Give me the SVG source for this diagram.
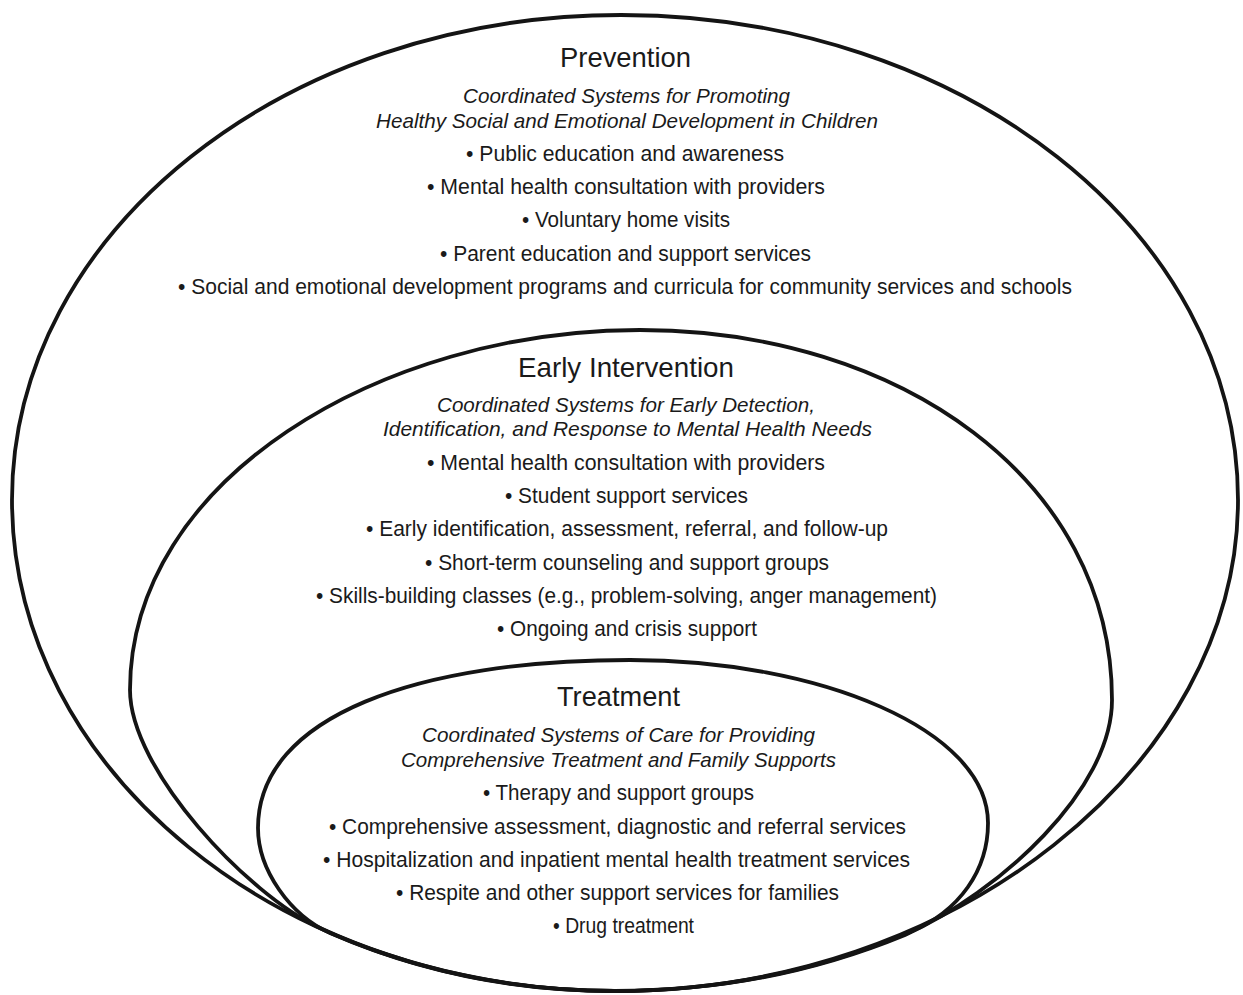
<svg xmlns="http://www.w3.org/2000/svg" width="1243" height="995" viewBox="0 0 1243 995">
<style>
.ring{fill:none;stroke:#141414;stroke-width:3.8;stroke-linejoin:round}
text{font-family:"Liberation Sans Narrow","Liberation Sans",Arial,sans-serif;fill:#1a1a1a;text-anchor:middle}
.t{font-size:28px}
.s{font-size:21px;font-style:italic}
.b{font-size:21.5px}
</style>
<rect width="1243" height="995" fill="#ffffff"/>
<g id="connectors"></g>
<g id="prevention">
<path class="ring" d="M615 991 C282 991 12 771 12 500 C12 232 285 15 621 15 C962 15 1238 232 1238 500 C1238 765 955 991 615 991 Z"/>
<text class="t" x="625.5" y="67" textLength="131" lengthAdjust="spacingAndGlyphs">Prevention</text>
<text class="s" x="626.5" y="103" textLength="327" lengthAdjust="spacingAndGlyphs">Coordinated Systems for Promoting</text>
<text class="s" x="627" y="128" textLength="502" lengthAdjust="spacingAndGlyphs">Healthy Social and Emotional Development in Children</text>
<text class="b" x="625" y="161" textLength="318" lengthAdjust="spacingAndGlyphs">• Public education and awareness</text>
<text class="b" x="626" y="194" textLength="398" lengthAdjust="spacingAndGlyphs">• Mental health consultation with providers</text>
<text class="b" x="626" y="227" textLength="208" lengthAdjust="spacingAndGlyphs">• Voluntary home visits</text>
<text class="b" x="625.5" y="261" textLength="371" lengthAdjust="spacingAndGlyphs">• Parent education and support services</text>
<text class="b" x="625" y="294" textLength="894" lengthAdjust="spacingAndGlyphs">• Social and emotional development programs and curricula for community services and schools</text>
</g>
<g id="early-intervention">
<path class="ring" d="M320 928 C248 895 130 770 130 690 C130 480 380 330 640 330 C900 330 1112 480 1112 700 C1112 790 1000 892 905 935 A623 491 0 0 1 615 991 A603 491 0 0 1 320 928 Z"/>
<text class="t" x="626" y="377" textLength="216" lengthAdjust="spacingAndGlyphs">Early Intervention</text>
<text class="s" x="626" y="412" textLength="378" lengthAdjust="spacingAndGlyphs">Coordinated Systems for Early Detection,</text>
<text class="s" x="627.5" y="436" textLength="489" lengthAdjust="spacingAndGlyphs">Identification, and Response to Mental Health Needs</text>
<text class="b" x="626" y="470" textLength="398" lengthAdjust="spacingAndGlyphs">• Mental health consultation with providers</text>
<text class="b" x="626.5" y="503" textLength="243" lengthAdjust="spacingAndGlyphs">• Student support services</text>
<text class="b" x="627" y="536" textLength="522" lengthAdjust="spacingAndGlyphs">• Early identification, assessment, referral, and follow-up</text>
<text class="b" x="627" y="570" textLength="404" lengthAdjust="spacingAndGlyphs">• Short-term counseling and support groups</text>
<text class="b" x="626.5" y="603" textLength="621" lengthAdjust="spacingAndGlyphs">• Skills-building classes (e.g., problem-solving, anger management)</text>
<text class="b" x="627" y="636" textLength="260" lengthAdjust="spacingAndGlyphs">• Ongoing and crisis support</text>
</g>
<g id="treatment">
<path class="ring" d="M330 933 C290 915 258 870 258 828 C258 715 420 660 630 660 C820 660 988 730 988 823 C988 870 960 911 910 932 A623 491 0 0 1 615 991 A603 491 0 0 1 330 933 Z"/>
<text class="t" x="618.5" y="706" textLength="123" lengthAdjust="spacingAndGlyphs">Treatment</text>
<text class="s" x="618.5" y="742" textLength="393" lengthAdjust="spacingAndGlyphs">Coordinated Systems of Care for Providing</text>
<text class="s" x="618.5" y="767" textLength="435" lengthAdjust="spacingAndGlyphs">Comprehensive Treatment and Family Supports</text>
<text class="b" x="618.5" y="800" textLength="271" lengthAdjust="spacingAndGlyphs">• Therapy and support groups</text>
<text class="b" x="617.5" y="834" textLength="577" lengthAdjust="spacingAndGlyphs">• Comprehensive assessment, diagnostic and referral services</text>
<text class="b" x="616.5" y="867" textLength="587" lengthAdjust="spacingAndGlyphs">• Hospitalization and inpatient mental health treatment services</text>
<text class="b" x="617.5" y="900" textLength="443" lengthAdjust="spacingAndGlyphs">• Respite and other support services for families</text>
<text class="b" x="623.5" y="933" textLength="141" lengthAdjust="spacingAndGlyphs">• Drug treatment</text>
</g>
</svg>
